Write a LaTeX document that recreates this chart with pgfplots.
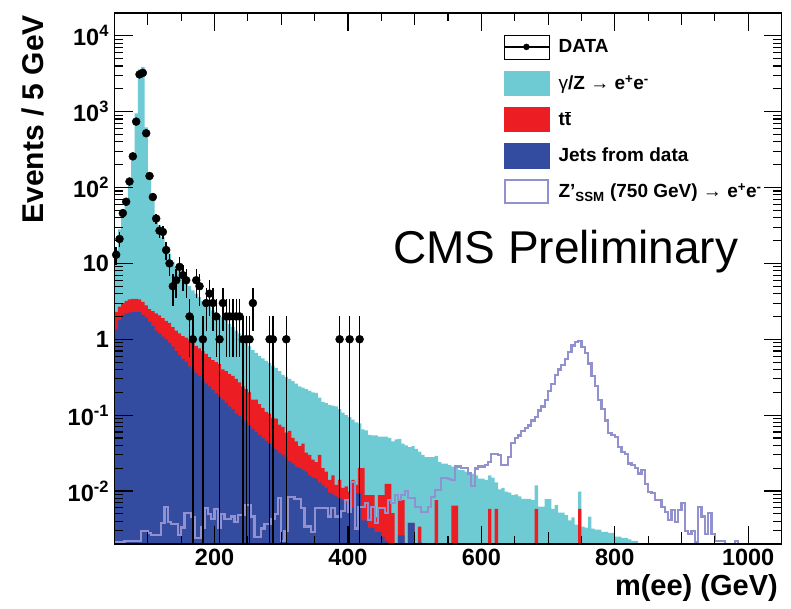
\documentclass[border=0pt]{standalone}
\usepackage{fontspec}
\setmainfont{Liberation Sans}
\usepackage{pgfplots}
\usepackage{pgfplotstable}
\pgfplotsset{compat=1.18}

\definecolor{dycyan}{RGB}{110,203,212}
\definecolor{ttred}{RGB}{236,30,36}
\definecolor{jetblue}{RGB}{52,76,160}
\definecolor{zplav}{RGB}{145,145,208}

% Stacked backgrounds (cumulative tops: jets, jets+ttbar, all) and the
% Z' signal, in 5 GeV bins given by their left edges.
% 1e-4 marks an empty bin (below the axis floor).
\pgfplotstableread{
m blue red cyan zp
50 1e-4 1e-4 1e-4 1e-4
50 1.35 2.3 15 0.0021
55 1.8 2.7 28 0.0021
60 2.1 3.0 45 0.0021
65 2.2 3.2 70 0.0022
70 2.25 3.35 125 0.0022
75 2.3 3.4 260 0.0022
80 2.3 3.4 950 0.0022
85 2.3 3.35 3600 0.0022
90 2.1 3.1 3900 0.003
95 1.95 2.8 620 0.003
100 1.7 2.5 150 0.0028
105 1.5 2.35 70 0.0026
110 1.3 2.2 42 0.0026
115 1.2 2.07 32 0.0026
120 1.08 1.9 22 0.0038
125 1.0 1.75 17 0.0062
130 0.9 1.65 13.5 0.0039
135 0.8 1.45 10.5 0.0037
140 0.7 1.3 9 0.0037
145 0.62 1.2 8 0.0026
150 0.55 1.1 6.8 0.0033
155 0.5 1.05 6 0.0051
160 0.44 0.97 5 0.0051
165 0.4 0.9 4.4 0.0045
170 0.36 0.82 4 0.0024
175 0.33 0.76 3.6 0.0024
180 0.29 0.7 3.2 0.0033
185 0.26 0.64 3 0.006
190 0.24 0.58 2.7 0.005
195 0.215 0.53 2.4 0.0043
200 0.195 0.5 2.25 0.0058
205 0.175 0.47 2.1 0.0033
210 0.16 0.4 1.97 0.005
215 0.145 0.38 1.8 0.0043
220 0.13 0.35 1.6 0.0043
225 0.12 0.33 1.45 0.0046
230 0.105 0.3 1.3 0.0039
235 0.097 0.27 1.2 0.0048
240 0.088 0.24 1.07 0.0048
245 0.08 0.22 0.95 0.0065
250 0.072 0.2 0.82 0.0065
255 0.066 0.16 0.72 0.0046
260 0.06 0.16 0.66 0.0025
265 0.055 0.14 0.6 0.0025
270 0.05 0.125 0.56 0.0032
275 0.046 0.11 0.52 0.0037
280 0.042 0.105 0.49 0.0037
285 0.038 0.092 0.45 0.0043
290 0.035 0.09 0.42 0.005
295 0.032 0.075 0.38 0.008
300 0.03 0.07 0.34 0.0022
305 0.027 0.059 0.32 0.003
310 0.025 0.062 0.3 0.0083
315 0.023 0.05 0.28 0.0083
320 0.021 0.045 0.26 0.0078
325 0.02 0.039 0.24 0.0078
330 0.019 0.042 0.23 0.006
335 0.018 0.032 0.22 0.0034
340 0.016 0.03 0.21 0.0034
345 0.015 0.026 0.2 0.0029
350 0.0145 0.024 0.196 0.0059
355 0.013 0.03 0.17 0.0059
360 0.012 0.02 0.15 0.0059
365 0.011 0.018 0.145 0.0059
370 0.0095 0.014 0.136 0.0046
375 0.009 0.016 0.133 0.0059
380 0.0085 0.012 0.13 0.0046
385 0.008 0.014 0.12 0.0046
390 0.0076 0.011 0.108 0.0055
395 0.007 0.0115 0.1 0.0076
400 0.0065 0.0098 0.094 0.0053
405 0.006 0.014 0.087 0.013
410 0.0094 0.012 0.08 0.0032
415 0.0094 0.02 0.078 0.0062
420 0.0041 0.02 0.065 0.0062
425 0.0041 0.0088 0.063 0.0069
430 0.0033 0.0088 0.055 0.0041
435 0.0033 0.0088 0.054 0.0062
440 0.0029 0.0045 0.054 0.0038
445 0.0029 0.0088 0.052 0.006
450 0.0025 0.0088 0.052 0.006
455 0.0022 0.0124 0.052 0.0051
460 1e-4 0.0124 0.05 0.0076
465 1e-4 0.0051 0.045 0.007
470 1e-4 1e-4 0.048 0.0088
475 0.0026 0.0076 0.0485 0.0076
480 0.0026 0.0076 0.042 0.0088
485 1e-4 1e-4 0.04 0.01
490 0.0038 0.0038 0.038 0.008
495 0.0038 0.0038 0.039 0.008
500 1e-4 1e-4 0.036 0.0062
505 0.0021 0.0034 0.033 0.0062
510 1e-4 1e-4 0.03 0.0053
515 1e-4 1e-4 0.028 0.0053
520 1e-4 1e-4 0.028 0.0062
525 1e-4 1e-4 0.028 0.0083
530 1e-4 0.0076 0.029 0.0103
535 1e-4 1e-4 0.024 0.0103
540 1e-4 1e-4 0.023 0.015
545 1e-4 1e-4 0.023 0.015
550 1e-4 1e-4 0.022 0.0145
555 1e-4 0.0064 0.021 0.014
560 1e-4 0.0064 0.021 0.021
565 1e-4 1e-4 0.019 0.021
570 1e-4 1e-4 0.0188 0.02
575 1e-4 1e-4 0.018 0.02
580 1e-4 1e-4 0.017 0.017
585 1e-4 1e-4 0.017 0.0115
590 1e-4 1e-4 0.016 0.0198
595 1e-4 1e-4 0.0145 0.021
600 1e-4 1e-4 0.0145 0.021
605 1e-4 1e-4 0.014 0.022
610 1e-4 0.0058 0.016 0.024
615 1e-4 1e-4 0.015 0.031
620 1e-4 0.0058 0.013 0.031
625 1e-4 1e-4 0.0105 0.03
630 1e-4 1e-4 0.011 0.022
635 1e-4 1e-4 0.0098 0.022
640 1e-4 1e-4 0.0095 0.028
645 1e-4 1e-4 0.0088 0.043
650 1e-4 1e-4 0.009 0.05
655 1e-4 1e-4 0.0085 0.054
660 1e-4 1e-4 0.0079 0.062
665 1e-4 1e-4 0.0079 0.067
670 1e-4 1e-4 0.0079 0.073
675 1e-4 1e-4 0.0076 0.085
680 1e-4 0.0058 0.0119 0.095
685 1e-4 1e-4 0.0062 0.115
690 1e-4 1e-4 0.0062 0.13
695 1e-4 1e-4 0.0078 0.157
700 1e-4 1e-4 0.0078 0.21
705 1e-4 1e-4 0.0058 0.26
710 1e-4 1e-4 0.0065 0.34
715 1e-4 1e-4 0.0052 0.4
720 1e-4 1e-4 0.0052 0.46
725 1e-4 1e-4 0.0048 0.55
730 1e-4 1e-4 0.0041 0.68
735 1e-4 1e-4 0.0045 0.83
740 1e-4 1e-4 0.0036 0.92
745 1e-4 0.0058 0.0098 0.95
750 1e-4 1e-4 0.0034 0.8
755 1e-4 1e-4 0.0033 0.66
760 1e-4 1e-4 0.0046 0.48
765 1e-4 1e-4 0.0032 0.33
770 1e-4 1e-4 0.0031 0.24
775 1e-4 1e-4 0.0031 0.16
780 1e-4 1e-4 0.0029 0.12
785 1e-4 1e-4 0.0029 0.085
790 1e-4 1e-4 0.0028 0.058
795 1e-4 1e-4 0.0028 0.055
800 1e-4 1e-4 0.0025 0.052
805 1e-4 1e-4 0.0025 0.038
810 1e-4 1e-4 0.0024 0.033
815 1e-4 1e-4 0.0024 0.031
820 1e-4 1e-4 0.0023 0.023
825 1e-4 1e-4 0.0022 0.022
830 1e-4 1e-4 0.0022 0.02
835 1e-4 1e-4 1e-4 0.017
840 1e-4 1e-4 1e-4 0.019
845 1e-4 1e-4 1e-4 0.0125
850 1e-4 1e-4 1e-4 0.0098
855 1e-4 1e-4 1e-4 0.0094
860 1e-4 1e-4 1e-4 0.0076
865 1e-4 1e-4 1e-4 0.0076
870 1e-4 1e-4 1e-4 0.0062
875 1e-4 1e-4 1e-4 0.0053
880 1e-4 1e-4 1e-4 0.0041
885 1e-4 1e-4 1e-4 0.0056
890 1e-4 1e-4 1e-4 0.0039
895 1e-4 1e-4 1e-4 0.0056
900 1e-4 1e-4 1e-4 0.0069
905 1e-4 1e-4 1e-4 0.003
910 1e-4 1e-4 1e-4 0.0027
915 1e-4 1e-4 1e-4 0.003
920 1e-4 1e-4 1e-4 0.0021
925 1e-4 1e-4 1e-4 0.0062
930 1e-4 1e-4 1e-4 0.0046
935 1e-4 1e-4 1e-4 0.0027
940 1e-4 1e-4 1e-4 0.0051
945 1e-4 1e-4 1e-4 0.0027
950 1e-4 1e-4 1e-4 0.0022
955 1e-4 1e-4 1e-4 0.0022
960 1e-4 1e-4 1e-4 0.0022
965 1e-4 1e-4 1e-4 1e-4
980 1e-4 1e-4 1e-4 0.0022
985 1e-4 1e-4 1e-4 1e-4
1050 1e-4 1e-4 1e-4 1e-4
}\hist

% Observed events per 5 GeV bin (bin centres) with Poisson errors
\pgfplotstableread{
m n ep em
52.5 13 3.61 3.61
57.5 21 4.58 4.58
62.5 46 6.78 6.78
67.5 65 8.06 8.06
72.5 120 10.95 10.95
77.5 258 16.06 16.06
82.5 740 27.2 27.2
87.5 3100 55.7 55.7
92.5 3250 57.0 57.0
97.5 520 22.8 22.8
102.5 142 11.9 11.9
107.5 75 8.66 8.66
112.5 39 6.24 6.24
117.5 27 5.20 5.20
122.5 26 5.10 5.10
127.5 15 3.87 3.87
132.5 10 3.16 3.16
137.5 5 2.24 2.24
142.5 6 2.45 2.45
147.5 9 3.0 3.0
152.5 7 2.65 2.65
157.5 6 2.45 2.45
162.5 2 1.41 1.41
167.5 1 1 0.9999
172.5 6 2.45 2.45
177.5 5 2.24 2.24
182.5 1 1 0.9999
187.5 3 1.73 1.73
192.5 4 2 2
197.5 3 1.73 1.73
202.5 2 1.41 1.41
207.5 1 1 0.9999
212.5 3 1.73 1.73
217.5 2 1.41 1.41
222.5 2 1.41 1.41
227.5 2 1.41 1.41
232.5 2 1.41 1.41
237.5 2 1.41 1.41
242.5 1 1 0.9999
247.5 1 1 0.9999
252.5 1 1 0.9999
257.5 3 1.73 1.73
282.5 1 1 0.9999
287.5 1 1 0.9999
307.5 1 1 0.9999
387.5 1 1 0.9999
402.5 1 1 0.9999
417.5 1 1 0.9999
}\obs

\begin{document}
\begin{tikzpicture}
\begin{axis}[
  at={(0pt,0pt)}, anchor=south west,
  scale only axis, width=667pt, height=531pt,
  xmin=50, xmax=1050,
  ymode=log, ymin=0.002, ymax=20000,
  axis on top,
  axis line style={line width=1.3pt},
  tick style={black, line width=1.1pt},
  major tick length=18pt, minor tick length=8.5pt,
  tick align=inside,
  xtick={200,400,600,800,1000},
  xticklabels={200,400,600,800,1000},
  minor xtick={50,100,...,1050},
  extra x ticks={100,300,500,700,900},
  extra x tick labels={},
  extra x tick style={major tick length=12pt},
  ytick={0.01,0.1,1,10,100,1000,10000},
  yticklabels={10\textsuperscript{-2},10\textsuperscript{-1},1,10,10\textsuperscript{2},10\textsuperscript{3},10\textsuperscript{4}},
  minor ytick={0.002,0.003,0.004,0.005,0.006,0.007,0.008,0.009,
    0.02,0.03,0.04,0.05,0.06,0.07,0.08,0.09,
    0.2,0.3,0.4,0.5,0.6,0.7,0.8,0.9,
    2,3,4,5,6,7,8,9,20,30,40,50,60,70,80,90,
    200,300,400,500,600,700,800,900,
    2000,3000,4000,5000,6000,7000,8000,9000,20000},
  tick label style={font=\fontsize{23.5}{25}\selectfont\bfseries},
  xticklabel style={yshift=-2pt},
  yticklabel style={xshift=-2pt},
  legend style={
    at={(axis description cs:0.5829,0.9595)}, anchor=north west,
    draw=none, fill=none, inner sep=0pt, outer sep=0pt,
    row sep=11.4pt, column sep=9pt,
    nodes={inner sep=0pt},
    font=\fontsize{19}{21}\selectfont\bfseries,
  },
  legend cell align=left,
]
% legend entries
\addlegendimage{legend image code/.code={
  \path (0pt,-12.2pt) rectangle (45pt,12.2pt);
  \draw[black, line width=1.3pt] (0pt,0pt) -- (45pt,0pt);
  \fill[black] (22.5pt,0pt) circle (3pt);}}
\addlegendentry{DATA}
\addlegendimage{legend image code/.code={
  \fill[dycyan] (0pt,-12.2pt) rectangle (45pt,12.2pt);}}
\addlegendentry{{\mdseries γ}/Z → e\textsuperscript{+}e\textsuperscript{-}}
\addlegendimage{legend image code/.code={
  \fill[ttred] (0pt,-12.2pt) rectangle (45pt,12.2pt);}}
\addlegendentry{t$\overline{\mbox{t}}$}
\addlegendimage{legend image code/.code={
  \fill[jetblue] (0pt,-12.2pt) rectangle (45pt,12.2pt);}}
\addlegendentry{Jets from data}
\addlegendimage{legend image code/.code={
  \draw[zplav, line width=2pt, fill=white] (1pt,-11.2pt) rectangle (44pt,11.2pt);}}
\addlegendentry{Z'\textsubscript{SSM} (750 GeV) → e\textsuperscript{+}e\textsuperscript{-}}

% stacked backgrounds
\addplot[const plot, fill=dycyan, draw=none, forget plot] table[x=m, y=cyan] {\hist};
\addplot[const plot, fill=ttred, draw=none, forget plot] table[x=m, y=red] {\hist};
\addplot[const plot, fill=jetblue, draw=none, forget plot] table[x=m, y=blue] {\hist};
% Z' signal
\addplot[const plot, draw=zplav, line width=2.2pt, forget plot] table[x=m, y=zp] {\hist};
% data
\addplot[only marks, mark=*, mark size=4pt, black, forget plot,
  error bars/.cd, y dir=both, y explicit, x dir=both, x fixed=2.5,
  error mark=none, error bar style={line width=1.4pt, black}]
  table[x=m, y=n, y error plus=ep, y error minus=em] {\obs};
\end{axis}

\node[rotate=90, anchor=base east, inner sep=0pt,
  font=\fontsize{30}{32}\selectfont\bfseries] at (-71.2pt,529pt) {Events / 5 GeV};
\node[anchor=base east, inner sep=0pt,
  font=\fontsize{29}{31}\selectfont\bfseries] at (663.5pt,-51.6pt) {m(ee) (GeV)};
\node[anchor=base west, inner sep=0pt,
  font=\fontsize{46}{48}\selectfont] at (278.5pt,280pt) {CMS Preliminary};

\pgfresetboundingbox
\path[use as bounding box] (-114.5pt,-64pt) rectangle (676.5pt,544pt);
\end{tikzpicture}
\end{document}
